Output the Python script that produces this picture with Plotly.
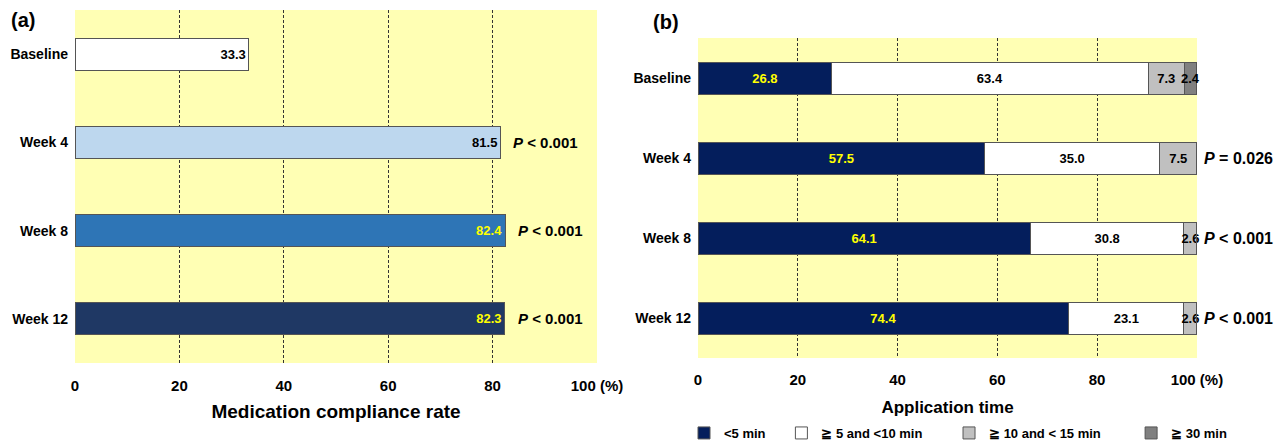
import plotly.graph_objects as go

# ---------------- data ----------------
categories = ["Baseline", "Week 4", "Week 8", "Week 12"]

# panel (a): medication compliance rate (%)
compliance = [33.3, 81.5, 82.4, 82.3]
compliance_colors = ["#FFFFFF", "#BDD7EE", "#2E75B6", "#1F3864"]
compliance_text_colors = ["#000000", "#000000", "#FFFF00", "#FFFF00"]
compliance_p = ["", "<i>P</i> < 0.001", "<i>P</i> < 0.001", "<i>P</i> < 0.001"]

# panel (b): application time (%), segment lengths as drawn and labels as printed
time_groups = ["<5 min", "\u2267 5 and <10 min", "\u2267 10 and < 15 min", "\u2267 30 min"]
time_lt5 = [26.8, 57.5, 66.6, 74.3]
time_5_10 = [63.4, 35.0, 30.8, 23.1]
time_10_15 = [7.3, 7.5, 2.6, 2.6]
time_ge30 = [2.4, 0.0, 0.0, 0.0]
label_lt5 = ["26.8", "57.5", "64.1", "74.4"]
label_5_10 = ["63.4", "35.0", "30.8", "23.1"]
label_10_15 = ["7.3", "7.5", "2.6", "2.6"]
label_ge30 = ["2.4", "", "", ""]
time_colors = ["#041E5C", "#FFFFFF", "#C0C0C0", "#808080"]
time_text_colors = ["#FFFF00", "#000000", "#000000", "#000000"]
time_p = ["", "<i>P</i> = 0.026", "<i>P</i> < 0.001", "<i>P</i> < 0.001"]

tick_vals = [0, 20, 40, 60, 80, 100]
tick_text = ["0", "20", "40", "60", "80", "100 (%)"]

FONT = "Arial, Liberation Sans, sans-serif"
YELLOW = "#FFFFB4"
OUTLINE = "#555555"
GRID_COLOR = "#333333"
GRID_DASH = "3px,2px"

# page body has an 8px margin; figure is sized/positioned to compensate
OFF = 8
W, H = 1282 - OFF, 443 - OFF


def X(px):
    return (px - OFF) / W


def Y(py):
    return 1 - (py - OFF) / H


fig = go.Figure()

# ---------------- panel (a) ----------------
fig.add_trace(go.Bar(
    y=categories, x=compliance, orientation="h", width=0.36,
    marker=dict(color=compliance_colors, line=dict(color=OUTLINE, width=1)),
    text=[f"{v:.1f}" for v in compliance], textposition="inside",
    insidetextanchor="end", textangle=0, constraintext="none",
    textfont=dict(family=FONT, size=13, color=compliance_text_colors, weight="bold"),
    showlegend=False, xaxis="x", yaxis="y", hoverinfo="x+y",
))

# ---------------- panel (b) ----------------
series = [time_lt5, time_5_10, time_10_15, time_ge30]
labels = [label_lt5, label_5_10, label_10_15, label_ge30]
pad = ["\u00a0" * 3, "\u00a0" * 6, "\u00a0" * 7, ""]
for name, vals, labs, col, tcol, pd_ in zip(time_groups, series, labels, time_colors,
                                            time_text_colors, pad):
    fig.add_trace(go.Bar(
        y=categories, x=vals, orientation="h", width=0.4, name=name + pd_,
        marker=dict(color=col, line=dict(color=OUTLINE, width=1)),
        text=labs, textposition="inside", insidetextanchor="middle",
        textangle=0, constraintext="none",
        textfont=dict(family=FONT, size=13, color=tcol, weight="bold"),
        xaxis="x2", yaxis="y2", cliponaxis=False,
    ))

# edge grid lines (0 and 100) that plotly omits at the range bounds
for xr, yr in (("x", "y domain"), ("x2", "y2 domain")):
    for v in (tick_vals[0], tick_vals[-1]):
        fig.add_shape(type="line", xref=xr, yref=yr, x0=v, x1=v, y0=0, y1=1,
                      line=dict(color=GRID_COLOR, width=1, dash=GRID_DASH), layer="below")

# p-value annotations
for cat, v, p in zip(categories, compliance, compliance_p):
    if p:
        fig.add_annotation(x=v, y=cat, xref="x", yref="y", text=f"<b>{p}</b>",
                           showarrow=False, xanchor="left", xshift=11,
                           font=dict(family=FONT, size=15, color="#000000"))
for cat, p in zip(categories, time_p):
    if p:
        fig.add_annotation(x=tick_vals[-1], y=cat, xref="x2", yref="y2", text=f"<b>{p}</b>",
                           showarrow=False, xanchor="left", xshift=5,
                           font=dict(family=FONT, size=16, color="#000000"))

# panel labels
fig.add_annotation(x=X(9), y=Y(7), xref="paper", yref="paper", text="<b>(a)</b>",
                   showarrow=False, xanchor="left", yanchor="top",
                   font=dict(family=FONT, size=20, color="#000000"))
fig.add_annotation(x=X(651), y=Y(9), xref="paper", yref="paper", text="<b>(b)</b>",
                   showarrow=False, xanchor="left", yanchor="top",
                   font=dict(family=FONT, size=20, color="#000000"))

# background plot areas
fig.add_shape(type="rect", xref="x domain", yref="y domain", x0=0, x1=1, y0=0, y1=1,
              fillcolor=YELLOW, line=dict(width=0), layer="below")
fig.add_shape(type="rect", xref="x2 domain", yref="y2 domain", x0=0, x1=1, y0=0, y1=1,
              fillcolor=YELLOW, line=dict(width=0), layer="below")

xcommon = dict(
    tickvals=tick_vals, ticktext=tick_text,
    showgrid=True, gridcolor=GRID_COLOR, gridwidth=1, griddash=GRID_DASH,
    zeroline=False, showline=False, ticks="", automargin=False,
    tickfont=dict(family=FONT, size=15, color="#000000", weight="bold"),
    fixedrange=True, layer="below traces",
)
ycommon = dict(
    autorange="reversed", showgrid=False, zeroline=False, showline=False, ticks="",
    tickfont=dict(family=FONT, size=14, color="#000000", weight="bold"),
    ticklabelstandoff=6, fixedrange=True, automargin=False,
)

fig.update_layout(
    width=W, height=H,
    margin=dict(l=0, r=0, t=0, b=0, autoexpand=False),
    paper_bgcolor="#FFFFFF", plot_bgcolor="rgba(0,0,0,0)",
    barmode="stack",
    font=dict(family=FONT, color="#000000"),
    uniformtext=dict(minsize=13, mode="show"),
    xaxis=dict(domain=[X(75), X(597)], anchor="y", range=[0, 100],
               title=dict(text="<b>Medication compliance rate</b>", standoff=11,
                          font=dict(family=FONT, size=19, color="#000000")),
               ticklabelstandoff=12, **xcommon),
    yaxis=dict(domain=[Y(363), Y(10)], anchor="x", **ycommon),
    xaxis2=dict(domain=[X(698), X(1197)], anchor="y2", range=[0, 100.02],
                title=dict(text="<b>Application time</b>", standoff=14,
                           font=dict(family=FONT, size=17, color="#000000")),
                ticklabelstandoff=11, **xcommon),
    yaxis2=dict(domain=[Y(358), Y(38)], anchor="x2", **ycommon),
    legend=dict(orientation="h", x=X(684), xanchor="left", y=Y(433), yanchor="middle",
                font=dict(family=FONT, size=13, color="#000000", weight="bold"),
                bgcolor="rgba(0,0,0,0)", traceorder="normal", itemwidth=30),
    showlegend=True,
)

fig.write_html("out.html")
